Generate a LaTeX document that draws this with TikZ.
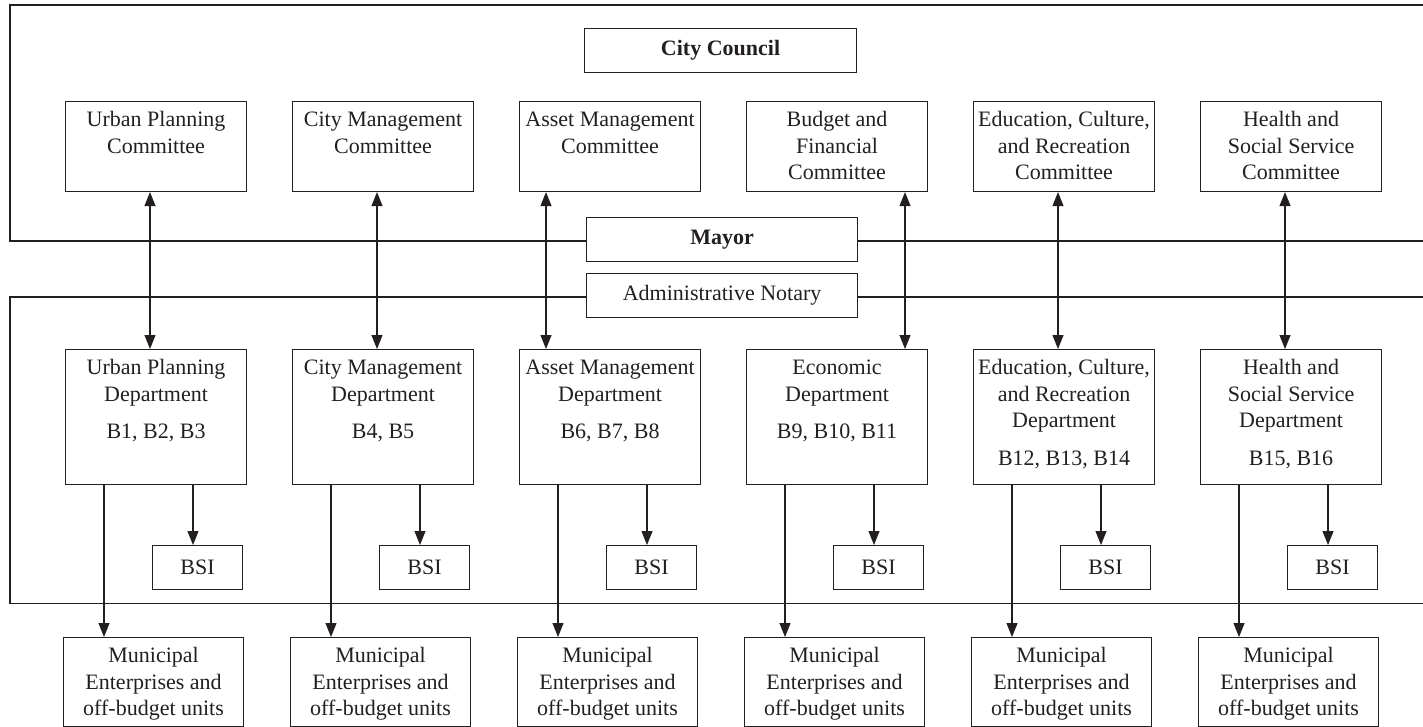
\documentclass[tikz,border=0pt]{standalone}
\usepackage{fontspec}
\setmainfont{Liberation Serif}
\usetikzlibrary{arrows.meta}
\definecolor{ink}{HTML}{231F20}

% top-aligned, centred text block of fixed size
\newcommand{\unittext}[3]{\parbox[c][#2][t]{#1}{\centering\vspace*{6.3pt}\strut#3\par}}

\tikzset{
  unit/.style={draw=ink, line width=1.1pt, inner sep=0pt, anchor=north west,
    text=ink, font=\fontsize{22}{26.7}\selectfont},
  flat/.style={unit, minimum height=44pt, align=center},
  frameline/.style={draw=ink, line width=1.1pt},
  tip/.tip={Triangle[length=14pt,width=11pt]},
  down/.style={draw=ink, line width=1.1pt, -tip},
  both/.style={draw=ink, line width=1.1pt, tip-tip},
}

\begin{document}
\begin{tikzpicture}[x=1pt, y=-1pt]
\useasboundingbox (0,0) rectangle (1423,727);

% council level
\node[flat, minimum width=272pt] (council) at (584,28) {\bfseries City Council};
\node[flat, minimum width=271pt] (mayor) at (586,217) {\bfseries Mayor};
\node[flat, minimum width=271pt] (notary) at (586,273) {Administrative Notary};

% committees
\node[unit] (com1) at (65,101)   {\unittext{181pt}{90pt}{Urban Planning\\Committee}};
\node[unit] (com2) at (292,101)  {\unittext{181pt}{90pt}{City Management\\Committee}};
\node[unit] (com3) at (519,101)  {\unittext{181pt}{90pt}{Asset Management\\Committee}};
\node[unit] (com4) at (746,101)  {\unittext{181pt}{90pt}{Budget and\\Financial\\Committee}};
\node[unit] (com5) at (973,101)  {\unittext{181pt}{90pt}{Education, Culture,\\and Recreation\\Committee}};
\node[unit] (com6) at (1200,101) {\unittext{181pt}{90pt}{Health and\\Social Service\\Committee}};

% departments
\node[unit] (dep1) at (65,349)   {\unittext{181pt}{135pt}{Urban Planning\\Department\\[11pt]B1, B2, B3}};
\node[unit] (dep2) at (292,349)  {\unittext{181pt}{135pt}{City Management\\Department\\[11pt]B4, B5}};
\node[unit] (dep3) at (519,349)  {\unittext{181pt}{135pt}{Asset Management\\Department\\[11pt]B6, B7, B8}};
\node[unit] (dep4) at (746,349)  {\unittext{181pt}{135pt}{Economic\\Department\\[11pt]B9, B10, B11}};
\node[unit] (dep5) at (973,349)  {\unittext{181pt}{135pt}{Education, Culture,\\and Recreation\\Department\\[11pt]B12, B13, B14}};
\node[unit] (dep6) at (1200,349) {\unittext{181pt}{135pt}{Health and\\Social Service\\Department\\[11pt]B15, B16}};

% BSI units and municipal enterprises
\foreach \i/\l in {1/65, 2/292, 3/519, 4/746, 5/973, 6/1200} {
  \node[flat, minimum width=90pt] (bsi\i) at (\l+87,545) {BSI};
  \node[unit] (mun\i) at (\l-2,637) {\unittext{180pt}{89pt}{Municipal\\Enterprises and\\off-budget units}};
}

% frames of the council and the administration
\coordinate (ft) at (10,241);
\coordinate (fb) at (10,297);
\draw[frameline] (1423,5) -- (10,5) -- (ft) -- (ft -| mayor.west);
\draw[frameline] (mayor.east |- ft) -- (1423,241);
\draw[frameline] (notary.west |- fb) -- (fb) -- (10,603.5) -- (1423,603.5);
\draw[frameline] (notary.east |- fb) -- (1423,297);

% committee <-> department links
\foreach \i/\dx in {1/85, 2/85, 3/27, 4/159, 5/85, 6/85} {
  \coordinate (up\i) at ([xshift=\dx pt]com\i.south west);
  \draw[both] (up\i) -- (up\i |- dep\i.north);
}

% department -> BSI and department -> enterprises
\foreach \i in {1,...,6} {
  \coordinate (sb\i) at ([xshift=128pt]dep\i.south west);
  \draw[down] (sb\i) -- (sb\i |- bsi\i.north);
  \coordinate (sm\i) at ([xshift=39pt]dep\i.south west);
  \draw[down] (sm\i) -- (sm\i |- mun\i.north);
}
\end{tikzpicture}
\end{document}
